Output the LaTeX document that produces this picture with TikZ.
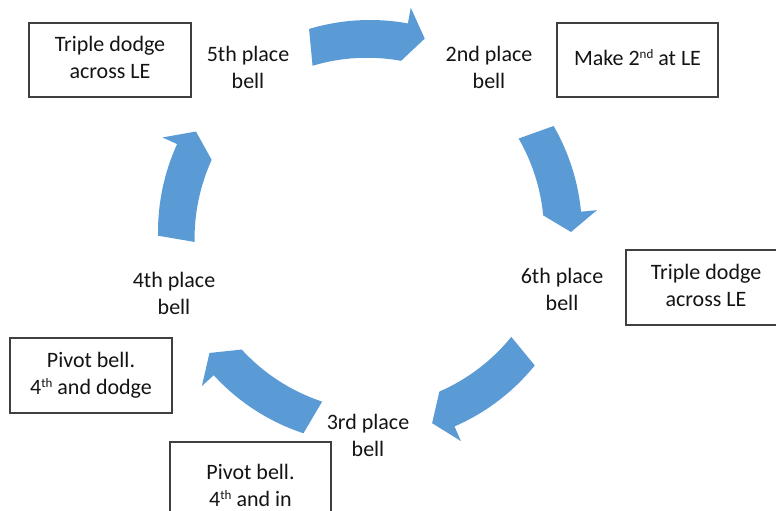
\documentclass[tikz,border=0pt]{standalone}
\usepackage{fontspec}
\setmainfont{Carlito}
\definecolor{arrowblue}{HTML}{5B9BD5}
\definecolor{boxline}{HTML}{404040}
\definecolor{txt}{HTML}{141414}
\newcommand\cyclearrow[2]{%
  \pgfmathsetmacro\hb{#2+5.5}%
  \fill[arrowblue] (#1:212pt) arc[start angle=#1, end angle=\hb, radius=212pt]
    -- (\hb:228pt) -- (#2:201pt) -- (\hb:174pt)
    arc[start angle=\hb, end angle=#1, radius=190pt] -- cycle;}
\newcommand\sups[1]{\raisebox{7pt}{\fontsize{13}{13}\selectfont #1}}
\newcommand\hstrut{\rule{0pt}{18.9pt}}
\begin{document}
\begin{tikzpicture}[x=1pt,y=1pt,
  lbl/.style={align=center, inner sep=0pt, text=txt, font=\fontsize{22}{27}\selectfont},
  infobox/.style={lbl, draw=boxline, line width=1.3pt},
]
\useasboundingbox (0,0) rectangle (776,-511);
\clip (0,0) rectangle (776,-511);
\fill[white] (0,0) rectangle (776,-511);

% cycle arrows
\begin{scope}[shift={(370,-232)}]
  \cyclearrow{106.7}{74.2}
  \cyclearrow{30}{0}
  \cyclearrow{-39}{-72}
  \cyclearrow{-108.3}{-143}
  \cyclearrow{181}{150}
\end{scope}

% bell labels
\node[lbl] (n5) at (248,-70) {\strut 5th place\\\strut bell};
\node[lbl] (n2) at (489,-70) {\strut 2nd place\\\strut bell};
\node[lbl] (n6) at (562,-292) {\strut 6th place\\\strut bell};
\node[lbl] (n3) at (368,-438) {\strut 3rd place\\\strut bell};
\node[lbl] (n4) at (174,-296) {\strut 4th place\\\strut bell};

% boxes
\node[infobox, minimum width=162pt, minimum height=74pt] (b1) at (110,-60)
  {\strut Triple dodge\\\strut across LE};
\node[infobox, minimum width=161pt, minimum height=74pt] (b2) at (637.5,-60)
  {\strut Make 2\sups{nd} at LE};
\node[infobox, minimum width=160pt, minimum height=75pt] (b3) at (706,-287.5)
  {\strut Triple dodge\\\strut across LE};
\node[infobox, minimum width=162pt, minimum height=75pt] (b4) at (91,-375.5)
  {\strut Pivot bell.\\\strut 4\sups{th} and dodge};
\node[infobox, minimum width=161pt, minimum height=84pt] (b5) at (250.5,-484)
  {\hstrut Pivot bell.\\\hstrut 4\sups{th} and in};
\end{tikzpicture}
\end{document}
